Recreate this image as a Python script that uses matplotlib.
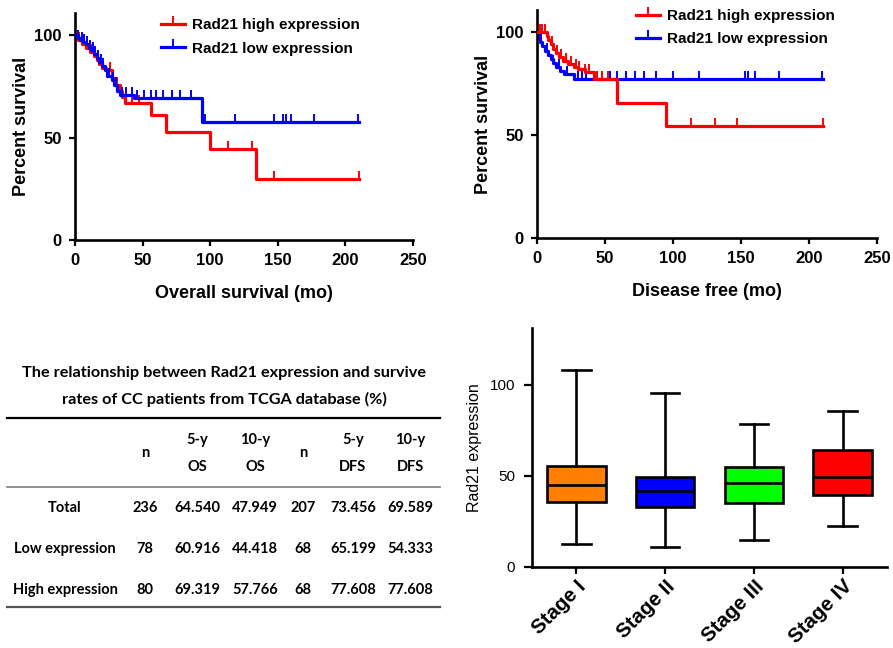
import numpy as np
import matplotlib
matplotlib.use('Agg')
import matplotlib.pyplot as plt
from matplotlib.lines import Line2D

plt.rcParams['font.family'] = ['Liberation Sans', 'DejaVu Sans']

# Overall survival: step times (mo) and percent survival after each step
os_high_t = [0, 2, 5, 8, 11, 14, 16, 18, 20, 23, 27, 30, 33, 35, 37, 56, 67, 100, 134]
os_high_s = [100, 98, 96, 94, 92, 90, 88, 86, 84, 83, 79, 76, 73, 70, 67, 61, 53, 44.6, 29.7]
os_high_cens = [3, 9, 12, 17, 21, 26, 31, 38, 42, 47, 113, 131, 147, 210]

os_low_t = [0, 2, 4, 6, 8, 10, 12, 14, 16, 18, 20, 22, 24, 27, 29, 31, 33, 44, 94]
os_low_s = [100, 99, 98, 97, 96, 94, 93, 91, 89, 87, 85, 83, 80, 78, 76, 73, 71, 69.6, 57.8]
os_low_cens = [2, 5, 7, 9, 11, 13, 15, 17, 19, 21, 25, 28, 30, 35, 38, 42, 46, 51, 56, 60,
               65, 72, 78, 86, 96.5, 118, 147, 154, 156, 160, 176.5, 209]

# Disease free survival
dfs_high_t = [0, 7, 8, 10, 12, 14, 16, 19, 23, 27, 30, 35, 42, 59, 95]
dfs_high_s = [100, 98, 96, 94, 92, 90, 88, 86, 84.5, 83, 82, 80.6, 77, 65.4, 54.5]
dfs_high_cens = [2, 4, 6, 11, 15, 18, 21, 25, 29, 31, 35, 38, 44, 48, 52, 113, 131, 147, 210]

dfs_low_t = [0, 1, 2, 4, 6, 8, 10, 12, 14, 17, 20, 27]
dfs_low_s = [100, 97, 95, 93, 91, 89, 87, 85, 83, 81, 79.5, 77.4]
dfs_low_cens = [3, 7, 12, 16, 22, 30, 33, 36, 47.8, 53.4, 58.8, 65.7, 72.3, 78.4, 87.7, 100,
                118.9, 153, 155, 160.5, 177.7, 209.6]

follow_up_end = 210

# Table values (%)
row_names = ['Total', 'Low expression', 'High expression']
n_os = [236, 78, 80]
os_5y = [64.540, 60.916, 69.319]
os_10y = [47.949, 44.418, 57.766]
n_dfs = [207, 68, 68]
dfs_5y = [73.456, 65.199, 77.608]
dfs_10y = [69.589, 54.333, 77.608]
table_title = ['The relationship between Rad21 expression and survive',
               'rates of CC patients from TCGA database (%)']
header_top = ['', '5-y', '10-y', '', '5-y', '10-y']
header_bot = ['', 'OS', 'OS', '', 'DFS', 'DFS']

# Box plot by stage
stages = ['Stage I', 'Stage II', 'Stage III', 'Stage IV']
box_low = [12.5, 11.2, 14.7, 22.7]
box_q1 = [35.7, 32.8, 35.0, 39.6]
box_med = [45.0, 41.4, 46.0, 49.3]
box_q3 = [55.1, 49.5, 54.6, 63.9]
box_high = [107.9, 95.4, 78.2, 85.3]
box_colors = ['#FF8000', '#0000FF', '#00FF00', '#FF0000']

W, H = 893, 648
fig = plt.figure(figsize=(W / 100, H / 100), dpi=100)


def px_axes(left, top, right, bottom):
    return fig.add_axes([left / W, 1 - bottom / H, (right - left) / W, (bottom - top) / H])


def style_axes(ax, bold=True):
    for s in ['top', 'right']:
        ax.spines[s].set_visible(False)
    for s in ['left', 'bottom']:
        ax.spines[s].set_linewidth(1.9)
    ax.tick_params(width=1.6, length=4.5, labelsize=12, pad=5)
    if bold:
        for lab in ax.get_xticklabels() + ax.get_yticklabels():
            lab.set_fontweight('bold')


def km_curve(ax, t, s, cens, color, z):
    tt = list(t) + [follow_up_end]
    ss = list(s) + [s[-1]]
    ax.step(tt, ss, where='post', color=color, lw=2.3, zorder=z)
    idx = np.searchsorted(t, cens, side='right') - 1
    ax.plot(cens, np.array(s)[idx], ls='none', marker=2, ms=6, mew=1.4, color=color, zorder=z)


def km_panel(ax, high, low, xlabel, ytop, high_on_top, leg_xy):
    km_curve(ax, *high, '#FF0000', 4 if high_on_top else 2)
    km_curve(ax, *low, '#0000FF', 2 if high_on_top else 4)
    ax.set_xlim(0, 250)
    ax.set_ylim(0, ytop)
    ax.set_xticks([0, 50, 100, 150, 200, 250])
    ax.set_yticks([0, 50, 100])
    ax.set_xlabel(xlabel, fontsize=13, fontweight='bold', labelpad=12)
    ax.set_ylabel('Percent survival', fontsize=13, fontweight='bold', labelpad=3)
    style_axes(ax)
    handles = [Line2D([], [], color='#FF0000', lw=2.3, marker=2, ms=6, mew=1.4),
               Line2D([], [], color='#0000FF', lw=2.3, marker=2, ms=6, mew=1.4)]
    ax.legend(handles, ['Rad21 high expression', 'Rad21 low expression'],
              loc='center left', bbox_to_anchor=(leg_xy[0] / W, 1 - leg_xy[1] / H),
              bbox_transform=fig.transFigure, frameon=False, borderpad=0,
              handlelength=1.6, handletextpad=0.45, labelspacing=0.6, numpoints=1,
              prop={'weight': 'bold', 'size': 11})


# top-left: overall survival
ax1 = px_axes(75, 13, 413, 240)
km_panel(ax1, (os_high_t, os_high_s, os_high_cens), (os_low_t, os_low_s, os_low_cens),
         'Overall survival (mo)', 111, False, (153, 37))

# top-right: disease free
ax2 = px_axes(537, 10, 877, 238)
km_panel(ax2, (dfs_high_t, dfs_high_s, dfs_high_cens), (dfs_low_t, dfs_low_s, dfs_low_cens),
         'Disease free (mo)', 110.7, True, (628, 27.5))

# bottom-right: box plot
ax3 = px_axes(532, 328, 887, 567)
stats = []
for i in range(len(stages)):
    stats.append({'whislo': box_low[i], 'q1': box_q1[i], 'med': box_med[i],
                  'q3': box_q3[i], 'whishi': box_high[i], 'fliers': []})
bp = ax3.bxp(stats, positions=range(1, len(stages) + 1), widths=0.66, patch_artist=True,
             showfliers=False,
             boxprops={'linewidth': 1.9, 'edgecolor': 'black'},
             medianprops={'color': 'black', 'linewidth': 1.9},
             whiskerprops={'linewidth': 1.9}, capprops={'linewidth': 1.9}, capwidths=0.32)
for patch, c in zip(bp['boxes'], box_colors):
    patch.set_facecolor(c)
ax3.set_xlim(0.5, 4.5)
ax3.set_ylim(0, 131)
ax3.set_yticks([0, 50, 100])
ax3.set_xticks(range(1, len(stages) + 1))
style_axes(ax3, bold=False)
ax3.tick_params(axis='y', labelsize=11, length=6, pad=6)
ax3.tick_params(axis='x', length=5, pad=2)
ax3.set_xticklabels(stages, rotation=45, ha='right', rotation_mode='anchor',
                    fontsize=14.8, fontweight='bold')
ax3.set_ylabel('Rad21 expression', fontsize=11.5, labelpad=6)

# bottom-left: table
axt = fig.add_axes([0, 0, 1, 1], zorder=-1)
axt.set_xlim(0, W)
axt.set_ylim(H, 0)
axt.axis('off')
tfont = {'family': ['Lato', 'DejaVu Sans'], 'weight': 'bold', 'size': 10.5}
for k, line in enumerate(table_title):
    axt.text(224, 373 + 26 * k, line, ha='center', va='center',
             **dict(tfont, size=11.7))
axt.plot([7, 440], [418, 418], color='black', lw=1.6)
axt.plot([7, 440], [487, 487], color='#888888', lw=1.3)
axt.plot([7, 440], [607, 607], color='#555555', lw=1.6)

col_x = [65, 145, 197, 255, 303, 353, 410]
for j in range(6):
    if header_top[j]:
        axt.text(col_x[j + 1], 440, header_top[j], ha='center', va='center', **tfont)
        axt.text(col_x[j + 1], 467, header_bot[j], ha='center', va='center', **tfont)
    else:
        axt.text(col_x[j + 1], 453, 'n', ha='center', va='center', **tfont)

row_y = [508, 549, 590]
for i, name in enumerate(row_names):
    vals = [str(n_os[i]), f'{os_5y[i]:.3f}', f'{os_10y[i]:.3f}',
            str(n_dfs[i]), f'{dfs_5y[i]:.3f}', f'{dfs_10y[i]:.3f}']
    axt.text(col_x[0], row_y[i], name, ha='center', va='center', **tfont)
    for j, v in enumerate(vals):
        axt.text(col_x[j + 1], row_y[i], v, ha='center', va='center', **tfont)

fig.savefig('out.png', dpi=100)
